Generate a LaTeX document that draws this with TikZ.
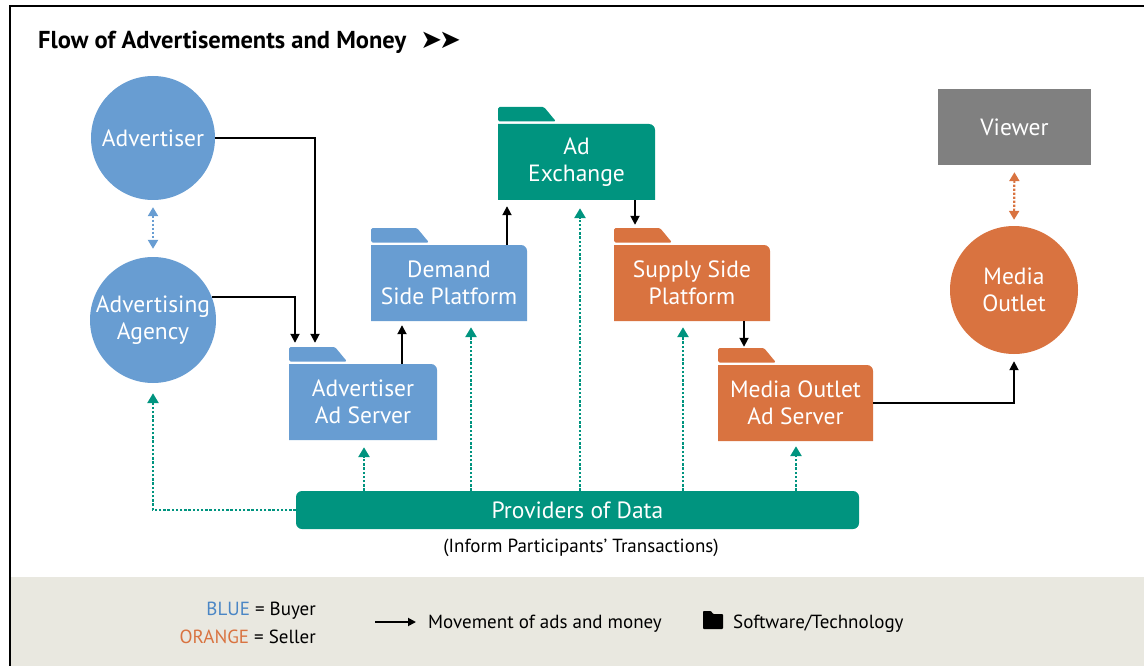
\documentclass[tikz,border=0pt]{standalone}
\usepackage{fontspec}
\setmainfont{PT Sans}
\newfontfamily\symfont{DejaVu Sans}
\usetikzlibrary{arrows.meta,calc}

\definecolor{buyer}{RGB}{104,157,210}
\definecolor{seller}{RGB}{217,115,64}
\definecolor{dataco}{RGB}{0,148,127}
\definecolor{viewergray}{RGB}{128,128,128}
\definecolor{band}{RGB}{233,232,224}
\definecolor{buyertxt}{RGB}{74,134,197}

\tikzset{
  lbl/.style={text=white, font=\fontsize{23.5}{26.5}\selectfont, align=center},
  party/.style={circle, lbl, inner sep=0pt},
  flow/.style={line width=1.8pt, -{Triangle[length=9pt,width=9pt]}},
  datalink/.style={dataco, line width=2.6pt, dash pattern=on 2.4pt off 1.8pt,
                   -{Triangle[length=10pt,width=11pt]}},
  linkpair/.style={line width=2.2pt, dash pattern=on 2.2pt off 1.8pt,
                   {Triangle[length=9pt,width=10pt]}-{Triangle[length=9pt,width=10pt]}},
  legendtxt/.style={inner sep=0pt, font=\fontsize{19}{22}\selectfont},
}

% folder: #1 name, #2 colour, #3 left, #4 right, #5 tab top, #6 bottom, #7 text
\newcommand{\folderbox}[7]{%
  \pgfmathsetmacro{\fbtop}{#5+17}%
  \fill[#2, rounded corners=1.5pt] (#3,#5) -- ({#3+46},#5) -- ({#3+58},{\fbtop-2.5})
      -- (#3,{\fbtop-2.5}) -- cycle;
  \fill[#2] (#3,#6) -- (#3,\fbtop) [rounded corners=6pt] -- (#4,\fbtop)
      [sharp corners] -- (#4,#6) -- cycle;
  \node[lbl, inner sep=0pt, minimum width={#4-#3}, minimum height={#6-\fbtop}]
      (#1) at ({(#3+#4)/2},{(\fbtop+#6)/2}) {#7};%
}

\begin{document}
\begin{tikzpicture}[x=1pt,y=-1pt]
\useasboundingbox (0,0) rectangle (1144,666);

% page frame and legend band
\fill[band] (10,577) rectangle (1144,666);
\draw[line width=2.5pt] (10,666) -- (10,6) -- (1144,6);

% heading
\node[anchor=base west, inner sep=0pt, font=\fontsize{24.5}{28}\selectfont\bfseries]
  (title) at (38,49) {Flow of Advertisements and Money\hspace{14pt}{\symfont\fontsize{26}{28}\selectfont ➤\kern-3pt➤}};

% participants
\node[party, fill=buyer, minimum size=124pt] (adv) at (153,138) {Advertiser};
\node[party, fill=buyer, minimum size=126pt] (agency) at (153,320) {Advertising\\Agency};
\node[party, fill=seller, minimum size=128pt] (outlet) at (1014,290) {Media\\Outlet};
\node[lbl, fill=viewergray, minimum width=153pt, minimum height=76pt, inner sep=0pt]
  (viewer) at (1014.5,127) {Viewer};

% software / technology
\folderbox{aas}{buyer}{289}{437}{347}{440}{Advertiser\\Ad Server}
\folderbox{dsp}{buyer}{371}{527}{228}{321}{Demand\\Side Platform}
\folderbox{adx}{dataco}{498}{655}{107}{200}{Ad\\Exchange}
\folderbox{ssp}{seller}{614}{770}{228}{321}{Supply Side\\Platform}
\folderbox{moas}{seller}{718}{873}{348}{441}{Media Outlet\\Ad Server}

% data providers
\node[lbl, fill=dataco, rounded corners=6pt, minimum width=563pt, minimum height=38pt,
      inner sep=0pt] (pod) at (577.5,510) {Providers of Data};
\node[font=\fontsize{19}{22}\selectfont, anchor=base, inner sep=0pt] (podnote) at (581,552)
  {(Inform Participants’ Transactions)};

% columns for the vertical links
\coordinate (cA) at (315,0);
\coordinate (cB) at (295,0);
\coordinate (cC) at (402,0);
\coordinate (cD) at (507,0);
\coordinate (cE) at (635,0);
\coordinate (cF) at (744,0);
\coordinate (cG) at (364,0);
\coordinate (cH) at (471,0);
\coordinate (cI) at (580,0);
\coordinate (cJ) at (683,0);
\coordinate (cK) at (796,0);

% movement of ads and money
\draw[flow, shorten >=21pt] (adv.east) -| (cA |- aas.north);
\draw[flow, shorten >=21pt] (agency.21) -| (cB |- aas.north);
\draw[flow, shorten >=4pt] (cC |- aas.north) -- (cC |- dsp.south);
\draw[flow, shorten >=6pt] (cD |- dsp.north) -- (cD |- adx.south);
\draw[flow, shorten >=20pt] (cE |- adx.south) -- (cE |- ssp.north);
\draw[flow, shorten >=18pt] (cF |- ssp.south) -- (cF |- moas.north);
\draw[flow, shorten >=7pt] (moas.east) -| (outlet.south);

% buyer and seller pairs
\draw[linkpair, buyer, shorten <=7pt, shorten >=8pt] (adv.south) -- (agency.north);
\draw[linkpair, seller, shorten <=7pt, shorten >=6pt] (viewer.south) -- (outlet.north);

% data feeds
\draw[datalink, shorten >=10pt] (pod.west) -| (agency.south);
\draw[datalink, shorten >=7pt] (cG |- pod.north) -- (cG |- aas.south);
\draw[datalink, shorten >=6pt] (cH |- pod.north) -- (cH |- dsp.south);
\draw[datalink, shorten >=8pt] (cI |- pod.north) -- (cI |- adx.south);
\draw[datalink, shorten >=6pt] (cJ |- pod.north) -- (cJ |- ssp.south);
\draw[datalink, shorten >=5pt] (cK |- pod.north) -- (cK |- moas.south);

% legend
\node[legendtxt, anchor=base east] (lgbuy) at (316,615)
  {\textcolor{buyertxt}{BLUE} = Buyer};
\node[legendtxt, anchor=base east] (lgsell) at (316,643)
  {\textcolor{seller}{ORANGE} = Seller};
\coordinate (lgA) at (375,622);
\coordinate (lgB) at (416,622);
\draw[line width=1.8pt, -{Triangle[length=8pt,width=8pt]}] (lgA) -- (lgB);
\node[legendtxt, anchor=base west] (lgmove) at (428,628)
  {Movement of ads and money};
\fill[rounded corners=0.8pt] (703,629) -- (703,611) -- (711,611) -- (713,614)
  -- (723,614) -- (723,629) -- cycle;
\node[legendtxt, anchor=base west] (lgsoft) at (733,628)
  {Software/Technology};
\end{tikzpicture}
\end{document}
